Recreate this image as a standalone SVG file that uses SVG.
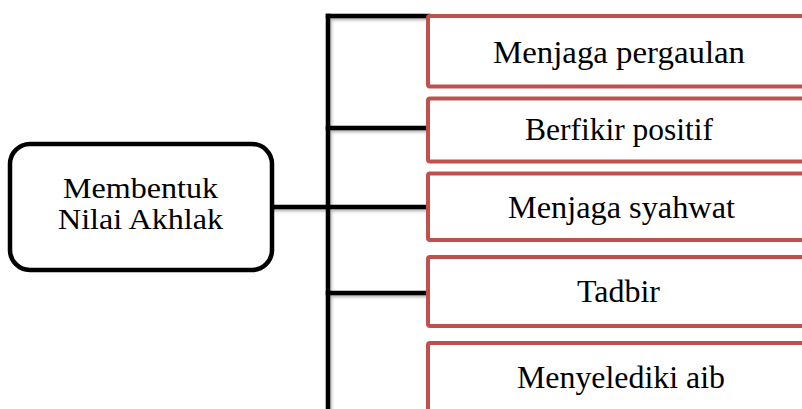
<svg xmlns="http://www.w3.org/2000/svg" width="802" height="409" viewBox="0 0 802 409">
  <defs>
    <filter id="sh" x="-10%" y="-10%" width="130%" height="130%">
      <feDropShadow dx="1.5" dy="2" stdDeviation="1.5" flood-color="#000" flood-opacity="0.3"/>
    </filter>
  </defs>
  <style>
    .root { fill: #ffffff; stroke: #000000; stroke-width: 4.5; }
    .leaf { fill: #ffffff; stroke: #C0504D; stroke-width: 4; }
    .conn { stroke: #000000; stroke-width: 4.5; fill: none; stroke-linecap: square; }
    .t { font-family: "Liberation Serif", "Times New Roman", serif; fill: #000000; text-anchor: middle; }
    .tl { font-size: 30px; }
    .tr { font-size: 32px; }
  </style>
  <rect width="802" height="409" fill="#ffffff"/>
  <g id="connectors" filter="url(#sh)">
    <path class="conn" d="M328,16 V412"/>
    <path class="conn" d="M328,16 H428"/>
    <path class="conn" d="M328,128 H428"/>
    <path class="conn" d="M272,207 H428"/>
    <path class="conn" d="M328,293 H428"/>
  </g>
  <g id="root">
    <rect class="root" x="10" y="144" width="262" height="126" rx="20" ry="20"/>
    <text class="t tl" x="140.5" y="198" textLength="155" lengthAdjust="spacingAndGlyphs">Membentuk</text>
    <text class="t tl" x="140.5" y="229" textLength="165" lengthAdjust="spacingAndGlyphs">Nilai Akhlak</text>
  </g>
  <g id="n1">
    <rect class="leaf" x="428" y="16" width="390" height="70.5" rx="2"/>
    <text class="t tr" x="619" y="63" textLength="252" lengthAdjust="spacingAndGlyphs">Menjaga pergaulan</text>
  </g>
  <g id="n2">
    <rect class="leaf" x="428" y="98.5" width="390" height="63" rx="2"/>
    <text class="t tr" x="619" y="140" textLength="188" lengthAdjust="spacingAndGlyphs">Berfikir positif</text>
  </g>
  <g id="n3">
    <rect class="leaf" x="428" y="173.5" width="390" height="66.5" rx="2"/>
    <text class="t tr" x="621.5" y="218" textLength="227" lengthAdjust="spacingAndGlyphs">Menjaga syahwat</text>
  </g>
  <g id="n4">
    <rect class="leaf" x="428" y="257" width="390" height="69" rx="2"/>
    <text class="t tr" x="618.5" y="302" textLength="83" lengthAdjust="spacingAndGlyphs">Tadbir</text>
  </g>
  <g id="n5">
    <rect class="leaf" x="428" y="343" width="390" height="80" rx="2"/>
    <text class="t tr" x="621" y="388" textLength="208" lengthAdjust="spacingAndGlyphs">Menyelediki aib</text>
  </g>
</svg>
